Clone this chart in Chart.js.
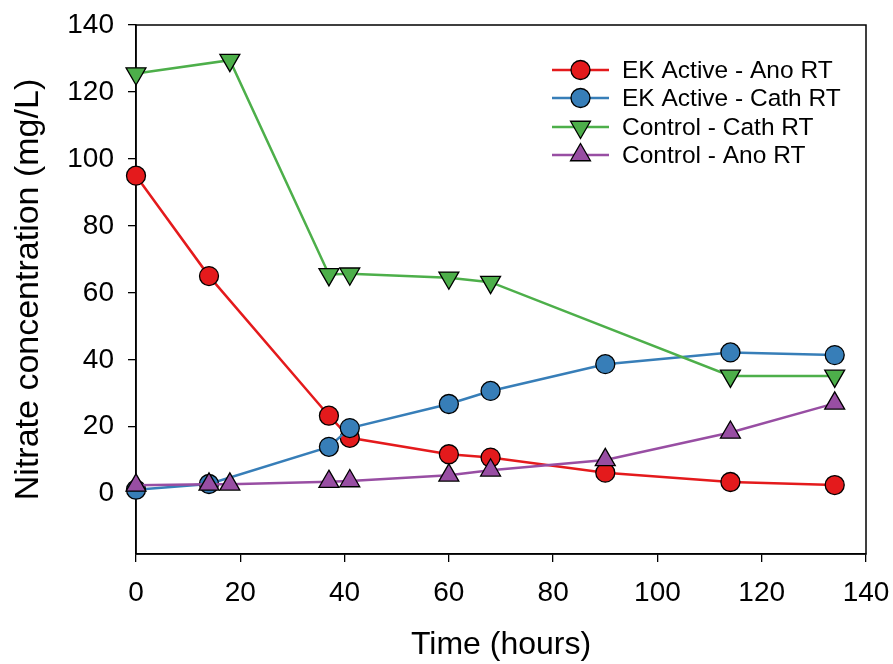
<!DOCTYPE html>
<html>
<head>
<meta charset="utf-8">
<script src="https://cdn.jsdelivr.net/npm/chart.js@4/dist/chart.umd.min.js"></script>
<style>
  html, body { margin: 0; padding: 0; background: #fff; }
  #wrap { width: 893px; height: 664px; }
</style>
</head>
<body>
<div id="wrap"><canvas id="nitrateChart" width="893" height="664"></canvas></div>
<script>
/* ==========================================================================
   Nitrate concentration vs time - scatter with lines
   ========================================================================== */

// Sampling times (hours)
const timeEK = [0, 14, 37, 41, 60, 68, 90, 114, 134];
const timeCtrlCath = [0, 18, 37, 41, 60, 68, 114, 134];
const timeCtrlAno = [0, 14, 18, 37, 41, 60, 68, 90, 114, 134];

// Nitrate concentration (mg/L)
const ekAno = [95, 65, 23.3, 16.7, 11.8, 10.8, 6.3, 3.5, 2.6];
const ekCath = [1.2, 2.9, 14, 19.6, 26.8, 30.7, 38.7, 42.2, 41.4];
const ctrlCath = [125.5, 129.5, 65.5, 65.7, 64.5, 63.2, 35.2, 35.2];
const ctrlAno = [2.5, 2.8, 2.8, 3.6, 3.8, 5.5, 7.0, 10.1, 18.3, 27.0];

const seriesLabels = ['EK Active - Ano RT', 'EK Active - Cath RT', 'Control - Cath RT', 'Control - Ano RT'];
const xTicks = [0, 20, 40, 60, 80, 100, 120, 140];
const yTicks = [0, 20, 40, 60, 80, 100, 120, 140];

const FONT = "'Liberation Sans', Arial, sans-serif";

function toPoints(xs, ys) {
    return xs.map((x, i) => ({ x: x, y: ys[i] }));
}

// later series are painted on top (lower order = drawn later)
function makeSet(label, xs, ys, color, style, rotation, radius, order) {
    return {
        label: label,
        data: toPoints(xs, ys),
        order: order,
        clip: false,
        borderColor: color,
        backgroundColor: color,
        borderWidth: 2.5,
        showLine: true,
        pointStyle: style,
        pointRotation: rotation,
        pointRadius: radius,
        pointHoverRadius: radius,
        pointBorderColor: '#000',
        pointBackgroundColor: color,
        pointBorderWidth: 1.3
    };
}

// Box around the plot area
const frameBox = {
    id: 'frameBox',
    beforeDatasetsDraw(chart) {
        const { ctx, chartArea: a } = chart;
        ctx.save();
        ctx.strokeStyle = '#000';
        ctx.lineWidth = 1.5;
        ctx.strokeRect(a.left, a.top, a.right - a.left, a.bottom - a.top);
        ctx.restore();
    }
};

// Legend drawn inside the plot, line + marker samples
const insideLegend = {
    id: 'insideLegend',
    afterDraw(chart) {
        const ctx = chart.ctx;
        const x0 = 552, x1 = 609, textX = 622;
        const rows = [70, 98, 127, 155];
        ctx.save();
        chart.data.datasets.forEach((ds, i) => {
            const y = rows[i];
            ctx.strokeStyle = ds.borderColor;
            ctx.lineWidth = 2.5;
            ctx.beginPath();
            ctx.moveTo(x0, y);
            ctx.lineTo(x1, y);
            ctx.stroke();

            ctx.fillStyle = ds.pointBackgroundColor;
            ctx.strokeStyle = '#000';
            ctx.lineWidth = ds.pointBorderWidth;
            Chart.helpers.drawPoint(ctx, {
                pointStyle: ds.pointStyle,
                rotation: ds.pointRotation,
                radius: ds.pointRadius,
                borderWidth: ds.pointBorderWidth
            }, (x0 + x1) / 2, y);

            ctx.fillStyle = '#000';
            ctx.font = '24.5px ' + FONT;
            ctx.textAlign = 'left';
            ctx.textBaseline = 'middle';
            ctx.fillText(ds.label, textX, y + 1);
        });
        ctx.restore();
    }
};

const ctx = document.getElementById('nitrateChart').getContext('2d');

new Chart(ctx, {
    type: 'scatter',
    data: {
        datasets: [
            makeSet(seriesLabels[0], timeEK, ekAno, '#e41a1c', 'circle', 0, 9.5, 4),
            makeSet(seriesLabels[1], timeEK, ekCath, '#377eb8', 'circle', 0, 9.5, 3),
            makeSet(seriesLabels[2], timeCtrlCath, ctrlCath, '#4daf4a', 'triangle', 180, 11.5, 2),
            makeSet(seriesLabels[3], timeCtrlAno, ctrlAno, '#984ea3', 'triangle', 0, 11.5, 1)
        ]
    },
    options: {
        responsive: false,
        animation: false,
        layout: { padding: { top: 25, right: 27, left: 0, bottom: 0 } },
        plugins: {
            legend: { display: false },
            tooltip: { enabled: false }
        },
        scales: {
            x: {
                type: 'linear',
                min: 0,
                max: 140,
                afterBuildTicks: (scale) => { scale.ticks = xTicks.map(v => ({ value: v })); },
                afterFit: (scale) => {
                    scale.height = 110;
                    scale.paddingLeft = 0;
                    scale.paddingRight = 0;
                },
                grid: {
                    drawOnChartArea: false,
                    drawTicks: true,
                    tickLength: 8,
                    color: '#000',
                    lineWidth: 1.3
                },
                border: { display: true, color: '#000', width: 1.5 },
                ticks: {
                    color: '#000',
                    padding: 14,
                    maxRotation: 0,
                    font: { family: FONT, size: 28 }
                },
                title: {
                    display: true,
                    text: 'Time (hours)',
                    color: '#000',
                    padding: { top: 0, bottom: 0 },
                    font: { family: FONT, size: 32 }
                }
            },
            y: {
                type: 'linear',
                min: -18,
                max: 140,
                afterBuildTicks: (scale) => { scale.ticks = yTicks.map(v => ({ value: v })); },
                afterFit: (scale) => {
                    scale.width = 136;
                    scale.paddingTop = 0;
                    scale.paddingBottom = 0;
                },
                grid: {
                    drawOnChartArea: false,
                    drawTicks: true,
                    tickLength: 8,
                    color: '#000',
                    lineWidth: 1.3
                },
                border: { display: true, color: '#000', width: 1.5 },
                ticks: {
                    color: '#000',
                    padding: 14,
                    font: { family: FONT, size: 28 }
                },
                title: {
                    display: true,
                    text: 'Nitrate concentration (mg/L)',
                    color: '#000',
                    padding: { top: 8, bottom: 0 },
                    font: { family: FONT, size: 34 }
                }
            }
        }
    },
    plugins: [frameBox, insideLegend]
});
</script>
</body>
</html>
